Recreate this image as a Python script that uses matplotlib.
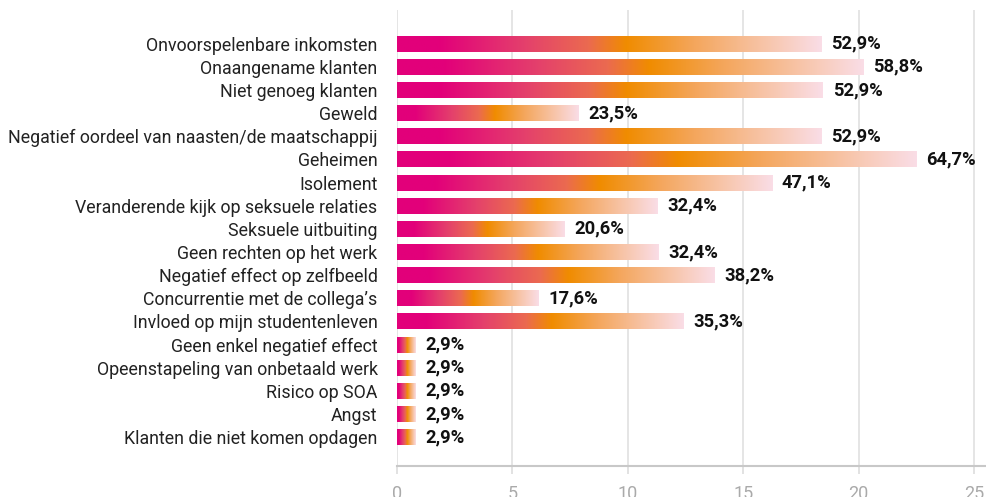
import matplotlib
matplotlib.use("Agg")
import matplotlib.pyplot as plt
from matplotlib.colors import LinearSegmentedColormap
import numpy as np

categories = [
    "Onvoorspelenbare inkomsten",
    "Onaangename klanten",
    "Niet genoeg klanten",
    "Geweld",
    "Negatief oordeel van naasten/de maatschappij",
    "Geheimen",
    "Isolement",
    "Veranderende kijk op seksuele relaties",
    "Seksuele uitbuiting",
    "Geen rechten op het werk",
    "Negatief effect op zelfbeeld",
    "Concurrentie met de collega\u2019s",
    "Invloed op mijn studentenleven",
    "Geen enkel negatief effect",
    "Opeenstapeling van onbetaald werk",
    "Risico op SOA",
    "Angst",
    "Klanten die niet komen opdagen",
]
# bar lengths as drawn on the 0-25 axis
bar_values = [18.4, 20.2, 18.45, 7.85, 18.4, 22.5, 16.25, 11.3, 7.25, 11.35,
              13.75, 6.15, 12.4, 0.8, 0.8, 0.8, 0.8, 0.8]
percentages = [52.9, 58.8, 52.9, 23.5, 52.9, 64.7, 47.1, 32.4, 20.6, 32.4,
               38.2, 17.6, 35.3, 2.9, 2.9, 2.9, 2.9, 2.9]
xticks = [0, 5, 10, 15, 20, 25]

grad = LinearSegmentedColormap.from_list("bar", [
    (0.0, "#e2007a"), (0.1, "#e2007a"), (0.3, "#e4406c"),
    (0.45, "#eb6a50"), (0.54, "#f08c00"), (0.7, "#f4a65c"),
    (1.0, "#fadde6")])

plt.rcParams["font.family"] = ["Roboto", "DejaVu Sans"]

fig = plt.figure(figsize=(9.87, 4.97), dpi=100)
ax = fig.add_axes([397 / 987, 31 / 497, 590 / 987, 456 / 497])

y = np.arange(len(categories))
h = 0.69
bars = ax.barh(y, bar_values, height=h, color="none", edgecolor="none")
ramp = np.linspace(0, 1, 256).reshape(1, -1)
for b in bars:
    x0, y0 = b.get_x(), b.get_y()
    ax.imshow(ramp, cmap=grad, aspect="auto", interpolation="bilinear",
              extent=[x0, x0 + b.get_width(), y0 + b.get_height(), y0], zorder=2)

for yi, v, p in zip(y, bar_values, percentages):
    ax.annotate(f"{p:.1f}%".replace(".", ","), (v, yi), xytext=(7, 0),
                textcoords="offset points", va="center", ha="left",
                fontsize=13.2, fontweight="bold", color="#111111")

ax.set_xlim(0, 25.56)
ax.set_ylim(len(categories) - 1 + 1.25, -1.46)
ax.set_xticks(xticks)
ax.set_yticks(y)
ax.set_yticklabels(categories, fontsize=12.8, color="#222222")
ax.tick_params(axis="y", length=0, pad=14)
ax.tick_params(axis="x", length=6, width=1.2, color="#dddddd",
               labelcolor="#aaaaaa", labelsize=13, pad=8)
ax.grid(axis="x", color="#e3e3e3", linewidth=1.3, zorder=0)
ax.set_axisbelow(True)
for s in ["top", "right", "left"]:
    ax.spines[s].set_visible(False)
ax.spines["bottom"].set_color("#c8c8c8")
ax.spines["bottom"].set_linewidth(1.5)

fig.savefig("out.png", dpi=100)
